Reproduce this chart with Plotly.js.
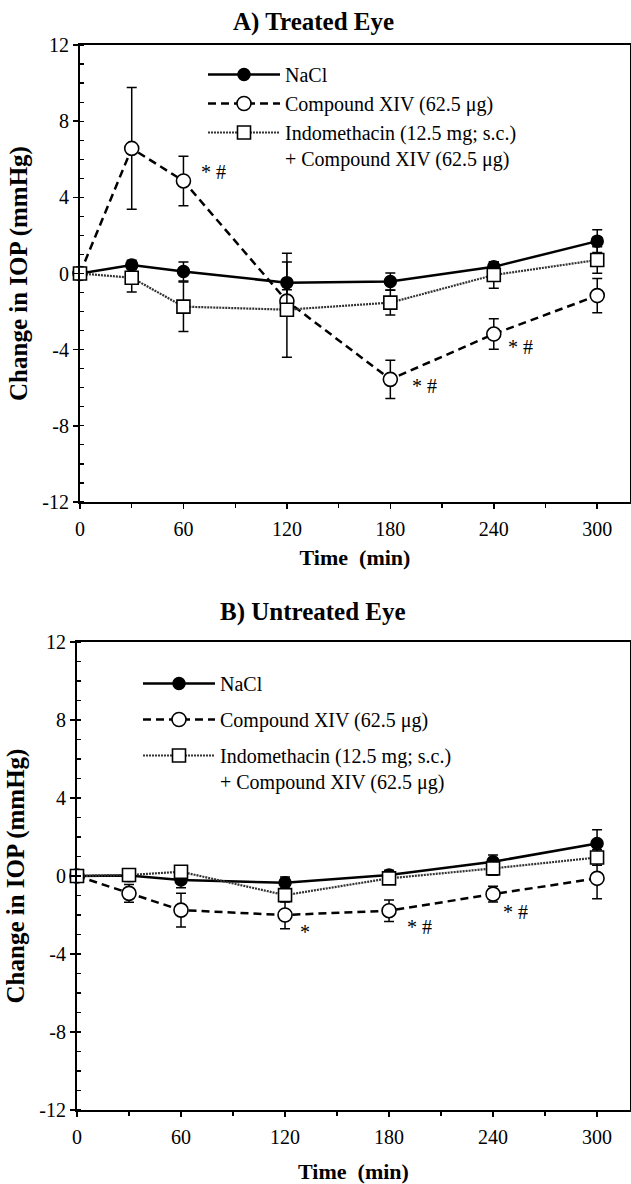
<!DOCTYPE html>
<html>
<head>
<meta charset="utf-8">
<script src="https://cdn.plot.ly/plotly-3.0.1.min.js"></script>
<style>html,body{margin:0;padding:0;background:#fff;}#chart{width:631px;height:1184px;}</style>
</head>
<body>
<div id="chart"></div>
<script>
// ---- data ----
const timeMin = [0, 30, 60, 120, 180, 240, 300];
const seriesNames = ['NaCl', 'Compound XIV (62.5 μg)', 'Indomethacin (12.5 mg; s.c.)<br>+ Compound XIV (62.5 μg)'];

// Panel A: treated eye
const naclA = [0, 0.45, 0.1, -0.48, -0.42, 0.35, 1.7];
const naclAErr = [0, 0.25, 0.5, 1.55, 0.45, 0.25, 0.6];
const cmpA = [0, 6.57, 4.86, -1.45, -5.56, -3.18, -1.16];
const cmpAErr = [0, 3.2, 1.3, 0.6, 1.0, 0.8, 0.9];
const indoA = [0, -0.22, -1.74, -1.9, -1.53, -0.08, 0.71];
const indoAErr = [0, 0.75, 1.3, 2.5, 0.65, 0.7, 0.7];
const sigA = ['', '', '* #', '', '* #', '* #', ''];

// Panel B: untreated eye
const naclB = [0, 0.02, -0.2, -0.35, 0.05, 0.73, 1.67];
const naclBErr = [0, 0.3, 0.4, 0.3, 0.25, 0.35, 0.7];
const cmpB = [0, -0.89, -1.75, -2.0, -1.78, -0.93, -0.12];
const cmpBErr = [0, 0.45, 0.87, 0.7, 0.55, 0.4, 1.05];
const indoB = [0, 0.05, 0.22, -0.98, -0.12, 0.39, 0.95];
const indoBErr = [0, 0.3, 0.3, 0.35, 0.25, 0.35, 0.4];
const sigB = ['', '', '', '*', '* #', '* #', ''];

const yTicks = [-12, -8, -4, 0, 4, 8, 12];
const xTicks = [0, 60, 120, 180, 240, 300];

// ---- styles ----
const SERIF = 'Liberation Serif';
const styles = [
  {line: {color: '#000', width: 2.5, dash: 'solid'}, marker: {symbol: 'circle', size: 12, color: '#000', line: {color: '#000', width: 1.5}}},
  {line: {color: '#000', width: 2.5, dash: '8px,5px'}, marker: {symbol: 'circle', size: 14, color: '#fff', line: {color: '#000', width: 1.6}}},
  {line: {color: '#333', width: 2.2, dash: '2px,1px'}, marker: {symbol: 'square', size: 13, color: '#fff', line: {color: '#000', width: 1.6}}}
];

function mk(y, err, idx, xa, ya, leg) {
  const s = styles[idx];
  return {
    x: timeMin, y: y, type: 'scatter', mode: 'lines+markers',
    name: seriesNames[idx], xaxis: xa, yaxis: ya, legend: leg, legendgroup: leg + idx,
    line: s.line, marker: s.marker, cliponaxis: false,
    error_y: {type: 'data', array: err, visible: true, color: '#000', thickness: 1.5, width: 5}
  };
}

const traces = [
  mk(naclA, naclAErr, 0, 'x', 'y', 'legend'),
  mk(cmpA, cmpAErr, 1, 'x', 'y', 'legend'),
  mk(indoA, indoAErr, 2, 'x', 'y', 'legend'),
  mk(naclB, naclBErr, 0, 'x2', 'y2', 'legend2'),
  mk(cmpB, cmpBErr, 1, 'x2', 'y2', 'legend2'),
  mk(indoB, indoBErr, 2, 'x2', 'y2', 'legend2')
];

// significance label offsets (px) per time index
const sigShiftA = {2: [30, 9], 4: [34, -7], 5: [27, -13]};
const sigShiftB = {3: [20, -17], 4: [30, -16], 5: [22, -18]};
const annotations = [];
sigA.forEach((t, i) => { if (t) annotations.push({x: timeMin[i], y: cmpA[i], xref: 'x', yref: 'y', text: t, showarrow: false, xshift: sigShiftA[i][0], yshift: sigShiftA[i][1], font: {family: SERIF, size: 20, color: '#000'}}); });
sigB.forEach((t, i) => { if (t) annotations.push({x: timeMin[i], y: cmpB[i], xref: 'x2', yref: 'y2', text: t, showarrow: false, xshift: sigShiftB[i][0], yshift: sigShiftB[i][1], font: {family: SERIF, size: 20, color: '#000'}}); });
annotations.push({x: 313 / 631, y: 1 - 22 / 1184, xref: 'paper', yref: 'paper', xanchor: 'center', yanchor: 'middle', text: '<b>A) Treated Eye</b>', showarrow: false, font: {family: SERIF, size: 25, color: '#000'}});
annotations.push({x: 313 / 631, y: 1 - 612 / 1184, xref: 'paper', yref: 'paper', xanchor: 'center', yanchor: 'middle', text: '<b>B) Untreated Eye</b>', showarrow: false, font: {family: SERIF, size: 25, color: '#000'}});

function xax(dom, standoff) {
  return {
    domain: dom, range: [0, 319], tickvals: xTicks, ticktext: xTicks.map(String),
    ticks: 'outside', ticklen: 5, tickwidth: 1.5, tickcolor: '#000',
    minor: {dtick: 30, tick0: 0, ticks: 'outside', ticklen: 4, tickwidth: 1.2, tickcolor: '#000'},
    showline: true, linecolor: '#000', linewidth: 2, mirror: true,
    showgrid: false, zeroline: false, ticklabelstandoff: 3,
    tickfont: {family: SERIF, size: 20, color: '#000'},
    title: {text: '<b>Time\u00a0 (min)</b>', font: {family: SERIF, size: 22, color: '#000'}, standoff: standoff},
    automargin: false
  };
}
function yax(dom) {
  return {
    domain: dom, range: [-12, 12], tickvals: yTicks, ticktext: yTicks.map(String),
    ticks: 'outside', ticklen: 5, tickwidth: 1.5, tickcolor: '#000',
    minor: {dtick: 1, tick0: 0, ticks: 'inside', ticklen: 4, tickwidth: 1.2, tickcolor: '#000'},
    showline: true, linecolor: '#000', linewidth: 2, mirror: true,
    showgrid: false, zeroline: false,
    tickfont: {family: SERIF, size: 20, color: '#000'},
    title: {text: '<b>Change in IOP (mmHg)</b>', font: {family: SERIF, size: 25, color: '#000'}, standoff: 8},
    automargin: false
  };
}

const layout = {
  width: 631, height: 1184,
  margin: {l: 0, r: 0, t: 0, b: 0},
  paper_bgcolor: '#fff', plot_bgcolor: '#fff',
  font: {family: SERIF, color: '#000'},
  xaxis: Object.assign(xax([80 / 631, 630 / 631], 11), {anchor: 'y'}),
  yaxis: Object.assign(yax([(1184 - 502) / 1184, (1184 - 45) / 1184]), {anchor: 'x'}),
  xaxis2: Object.assign(xax([77 / 631, 630 / 631], 23), {anchor: 'y2'}),
  yaxis2: Object.assign(yax([(1184 - 1110) / 1184, (1184 - 642) / 1184]), {anchor: 'x2'}),
  legend: {x: 203 / 631, y: 1 - 55 / 1184, xanchor: 'left', yanchor: 'top', bgcolor: 'rgba(0,0,0,0)', valign: 'top',
    font: {family: SERIF, size: 20, color: '#000'}, itemwidth: 72, tracegroupgap: 0, traceorder: 'grouped'},
  legend2: {x: 138 / 631, y: 1 - 664 / 1184, xanchor: 'left', yanchor: 'top', bgcolor: 'rgba(0,0,0,0)', valign: 'top',
    font: {family: SERIF, size: 20, color: '#000'}, itemwidth: 72, tracegroupgap: 7, traceorder: 'grouped'},
  annotations: annotations,
  showlegend: true
};

Plotly.newPlot('chart', traces, layout, {staticPlot: true, displayModeBar: false});
</script>
</body>
</html>
